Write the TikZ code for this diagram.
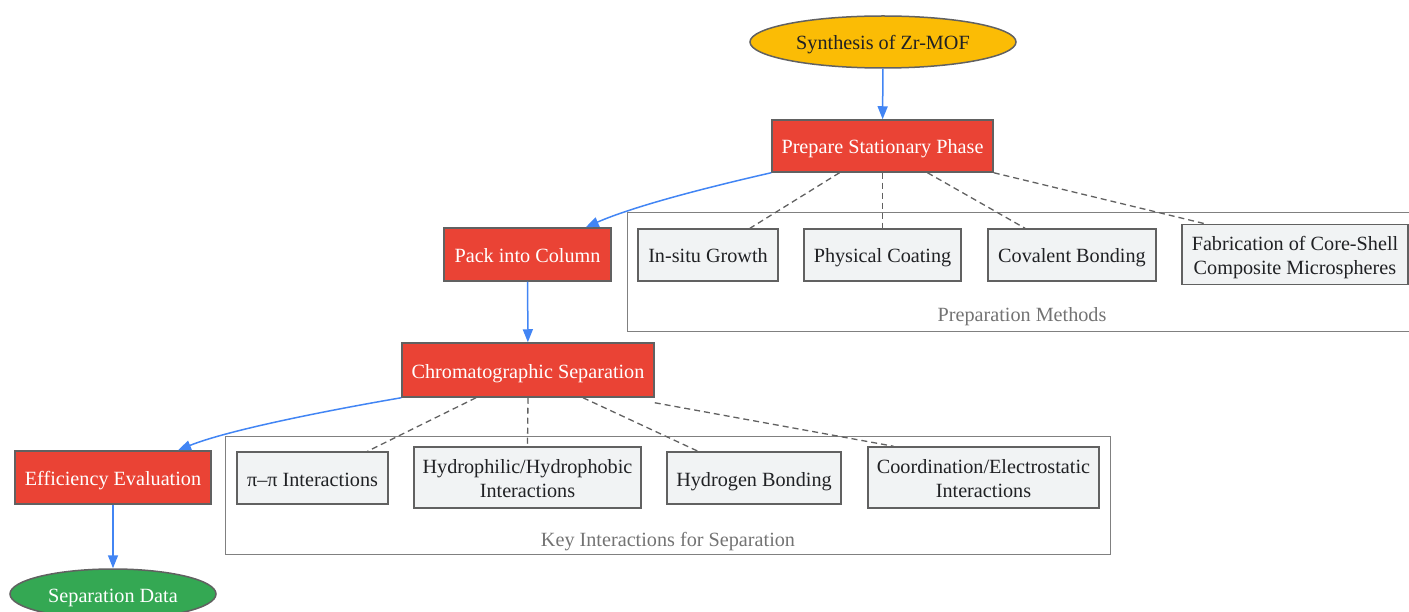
\documentclass[tikz,border=0pt]{standalone}
\usepackage{fontspec}
\setmainfont{Liberation Serif}
\usepackage{tikz}
\usetikzlibrary{shapes.geometric}
\usetikzlibrary{arrows.meta}

\definecolor{mofred}{HTML}{EA4335}
\definecolor{mofyellow}{HTML}{FBBC05}
\definecolor{mofgreen}{HTML}{34A853}
\definecolor{flowblue}{HTML}{4285F4}
\definecolor{boxgray}{HTML}{F1F3F4}
\definecolor{linegray}{HTML}{616161}
\definecolor{textdark}{HTML}{202124}

\begin{document}
\begin{tikzpicture}[x=1pt, y=-1pt,
		every node/.style={font=\fontsize{20.2}{24}\selectfont, inner sep=0pt, text height=16pt, text depth=0pt},
		twolines/.style={text height=40pt, text depth=0pt},
		terminal/.style={ellipse, draw=linegray, line width=1.5pt},
		stepbox/.style={rectangle, draw=linegray, line width=1.5pt, fill=mofred, text=white, minimum height=53pt},
		methodbox/.style={rectangle, draw=linegray, line width=1.5pt, fill=boxgray, text=textdark, align=center},
		cluster/.style={rectangle, draw=gray, line width=1pt, fill=none},
		clusterlabel/.style={text=gray!90!black},
		flow/.style={draw=flowblue, line width=1.5pt, -{Triangle[length=13pt,width=10pt]}},
		link/.style={draw=linegray, line width=1.3pt, dash pattern=on 6pt off 4pt}
	]
	\clip (0,0) rectangle (1409,612);

	% groups
	\node[cluster, minimum width=800pt, minimum height=119pt, anchor=north west] (methods) at (627,212) {};
	\node[clusterlabel] (methodslabel) at (1022,314) {Preparation Methods};
	\node[cluster, minimum width=885pt, minimum height=118pt, anchor=north west] (interactions) at (225,436) {};
	\node[clusterlabel] (interactionslabel) at (668,538) {Key Interactions for Separation};

	% main flow
	\node[terminal, fill=mofyellow, text=textdark, minimum width=266pt, minimum height=52pt] (synthesis) at (883,42) {Synthesis of Zr-MOF};
	\node[stepbox, minimum width=221pt, minimum height=52pt] (prepare) at (882.5,146) {Prepare Stationary Phase};
	\node[stepbox, minimum width=167pt] (pack) at (527.5,254.5) {Pack into Column};
	\node[stepbox, minimum width=252pt, minimum height=54pt] (chrom) at (528,370) {Chromatographic Separation};
	\node[stepbox, minimum width=196pt] (efficiency) at (113,477.5) {Efficiency Evaluation};
	\node[terminal, fill=mofgreen, text=white, minimum width=206pt, minimum height=50pt] (data) at (113,594) {Separation Data};

	% preparation methods
	\node[methodbox, minimum width=140pt, minimum height=52pt] (insitu) at (708,255) {In-situ Growth};
	\node[methodbox, minimum width=157pt, minimum height=52pt] (coating) at (882.5,255) {Physical Coating};
	\node[methodbox, minimum width=168pt, minimum height=52pt] (covalent) at (1072,255) {Covalent Bonding};
	\node[methodbox, twolines, minimum width=226pt, minimum height=60pt] (coreshell) at (1295,254.5) {Fabrication of Core-Shell\\Composite Microspheres};

	% interactions
	\node[methodbox, minimum width=151pt, minimum height=52pt] (pipi) at (312.5,478) {π–π Interactions};
	\node[methodbox, twolines, minimum width=227pt, minimum height=61pt] (hydro) at (527.5,477.5) {Hydrophilic/Hydrophobic\\Interactions};
	\node[methodbox, minimum width=174pt, minimum height=52pt] (hbond) at (754,478) {Hydrogen Bonding};
	\node[methodbox, twolines, minimum width=231pt, minimum height=61pt] (coord) at (983.5,477.5) {Coordination/Electrostatic\\Interactions};

	% arrows
	\draw[flow] (synthesis) -- (prepare);
	\draw[flow] (prepare.south west) .. controls (700,189) and (632,207) .. ([xshift=-26pt]pack.north east);
	\draw[flow] (pack) -- (chrom);
	\draw[flow] (chrom.south west) .. controls (330,410) and (228,430) .. ([xshift=65pt]efficiency.north);
	\draw[flow] (efficiency) -- (data);

	% dashed links
	\draw[link] ([xshift=-43pt]prepare.south) -- ([xshift=42pt]insitu.north);
	\draw[link] (prepare.south) -- (coating.north);
	\draw[link] ([xshift=45pt]prepare.south) -- ([xshift=-47pt]covalent.north);
	\draw[link] (prepare.south east) -- ([xshift=-90pt]coreshell.north);
	\draw[link] ([xshift=-52pt]chrom.south) -- ([xshift=55pt]pipi.north);
	\draw[link] (chrom.south) -- (hydro.north);
	\draw[link] ([xshift=55pt]chrom.south) -- ([xshift=-56pt]hbond.north);
	\draw[link] ([yshift=-5pt]chrom.south east) -- ([xshift=-90pt]coord.north);
\end{tikzpicture}
\end{document}
